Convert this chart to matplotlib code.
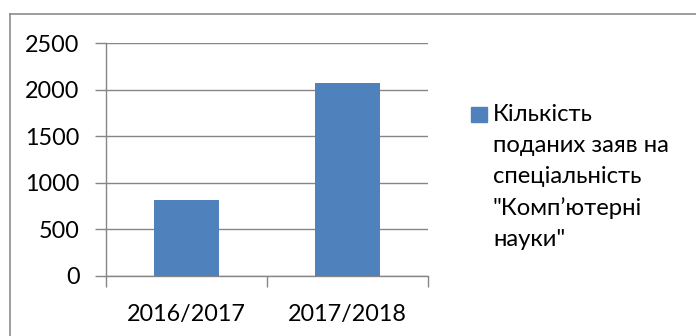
import matplotlib
matplotlib.use("Agg")
import matplotlib.pyplot as plt
from matplotlib.lines import Line2D

categories = ["2016/2017", "2017/2018"]
values = [815, 2067]
yticks = [0, 500, 1000, 1500, 2000, 2500]
legend_label = "Кількість\nподаних заяв на\nспеціальність\n\"Комп’ютерні\nнауки\""

W, H = 696, 336
plt.rcParams['font.family'] = ['Lato', 'DejaVu Sans']
fig = plt.figure(figsize=(W/100, H/100), dpi=100)

# outer chart frame
fig.add_artist(Line2D([10/W, 1], [1-14/H, 1-14/H], color='#8c8c8c', lw=1.2, transform=fig.transFigure))
fig.add_artist(Line2D([10/W, 10/W], [1-14/H, 0], color='#8c8c8c', lw=1.2, transform=fig.transFigure))

ax = fig.add_axes([106/W, 1-276/H, (428-106)/W, (276-43)/H])
x = list(range(len(categories)))
ax.bar(x, values, width=0.40, color='#4f81bd', zorder=3)
ax.set_xlim(-0.5, 1.5)
ax.set_ylim(0, 2500)
ax.set_yticks(yticks)
ax.set_yticklabels([str(v) for v in yticks], fontsize=16.8)
ax.grid(axis='y', color='#868686', lw=1.0, zorder=0)
ax.set_xticks([-0.5, 0.5, 1.5], minor=False)
ax.set_xticklabels([])
ax.set_xticks(x, minor=True)
ax.set_xticklabels(categories, minor=True, fontsize=16.8)
ax.tick_params(axis='x', which='major', length=8, color='#868686', width=1.0)
ax.tick_params(axis='x', which='minor', length=0, pad=20)
ax.tick_params(axis='y', length=8, color='#868686', width=1.0, pad=11)
for s in ['top', 'right']:
    ax.spines[s].set_visible(False)
for s in ['left', 'bottom']:
    ax.spines[s].set_color('#868686')
    ax.spines[s].set_linewidth(1.0)

# legend
fig.patches.append(plt.Rectangle((471/W, 1-122/H), 16/W, 15/H, color='#4f81bd', transform=fig.transFigure))
fig.text(493/W, 1-104/H, legend_label, fontsize=17.2, va='top', ha='left', linespacing=1.58)

fig.savefig("out.png", dpi=100)
